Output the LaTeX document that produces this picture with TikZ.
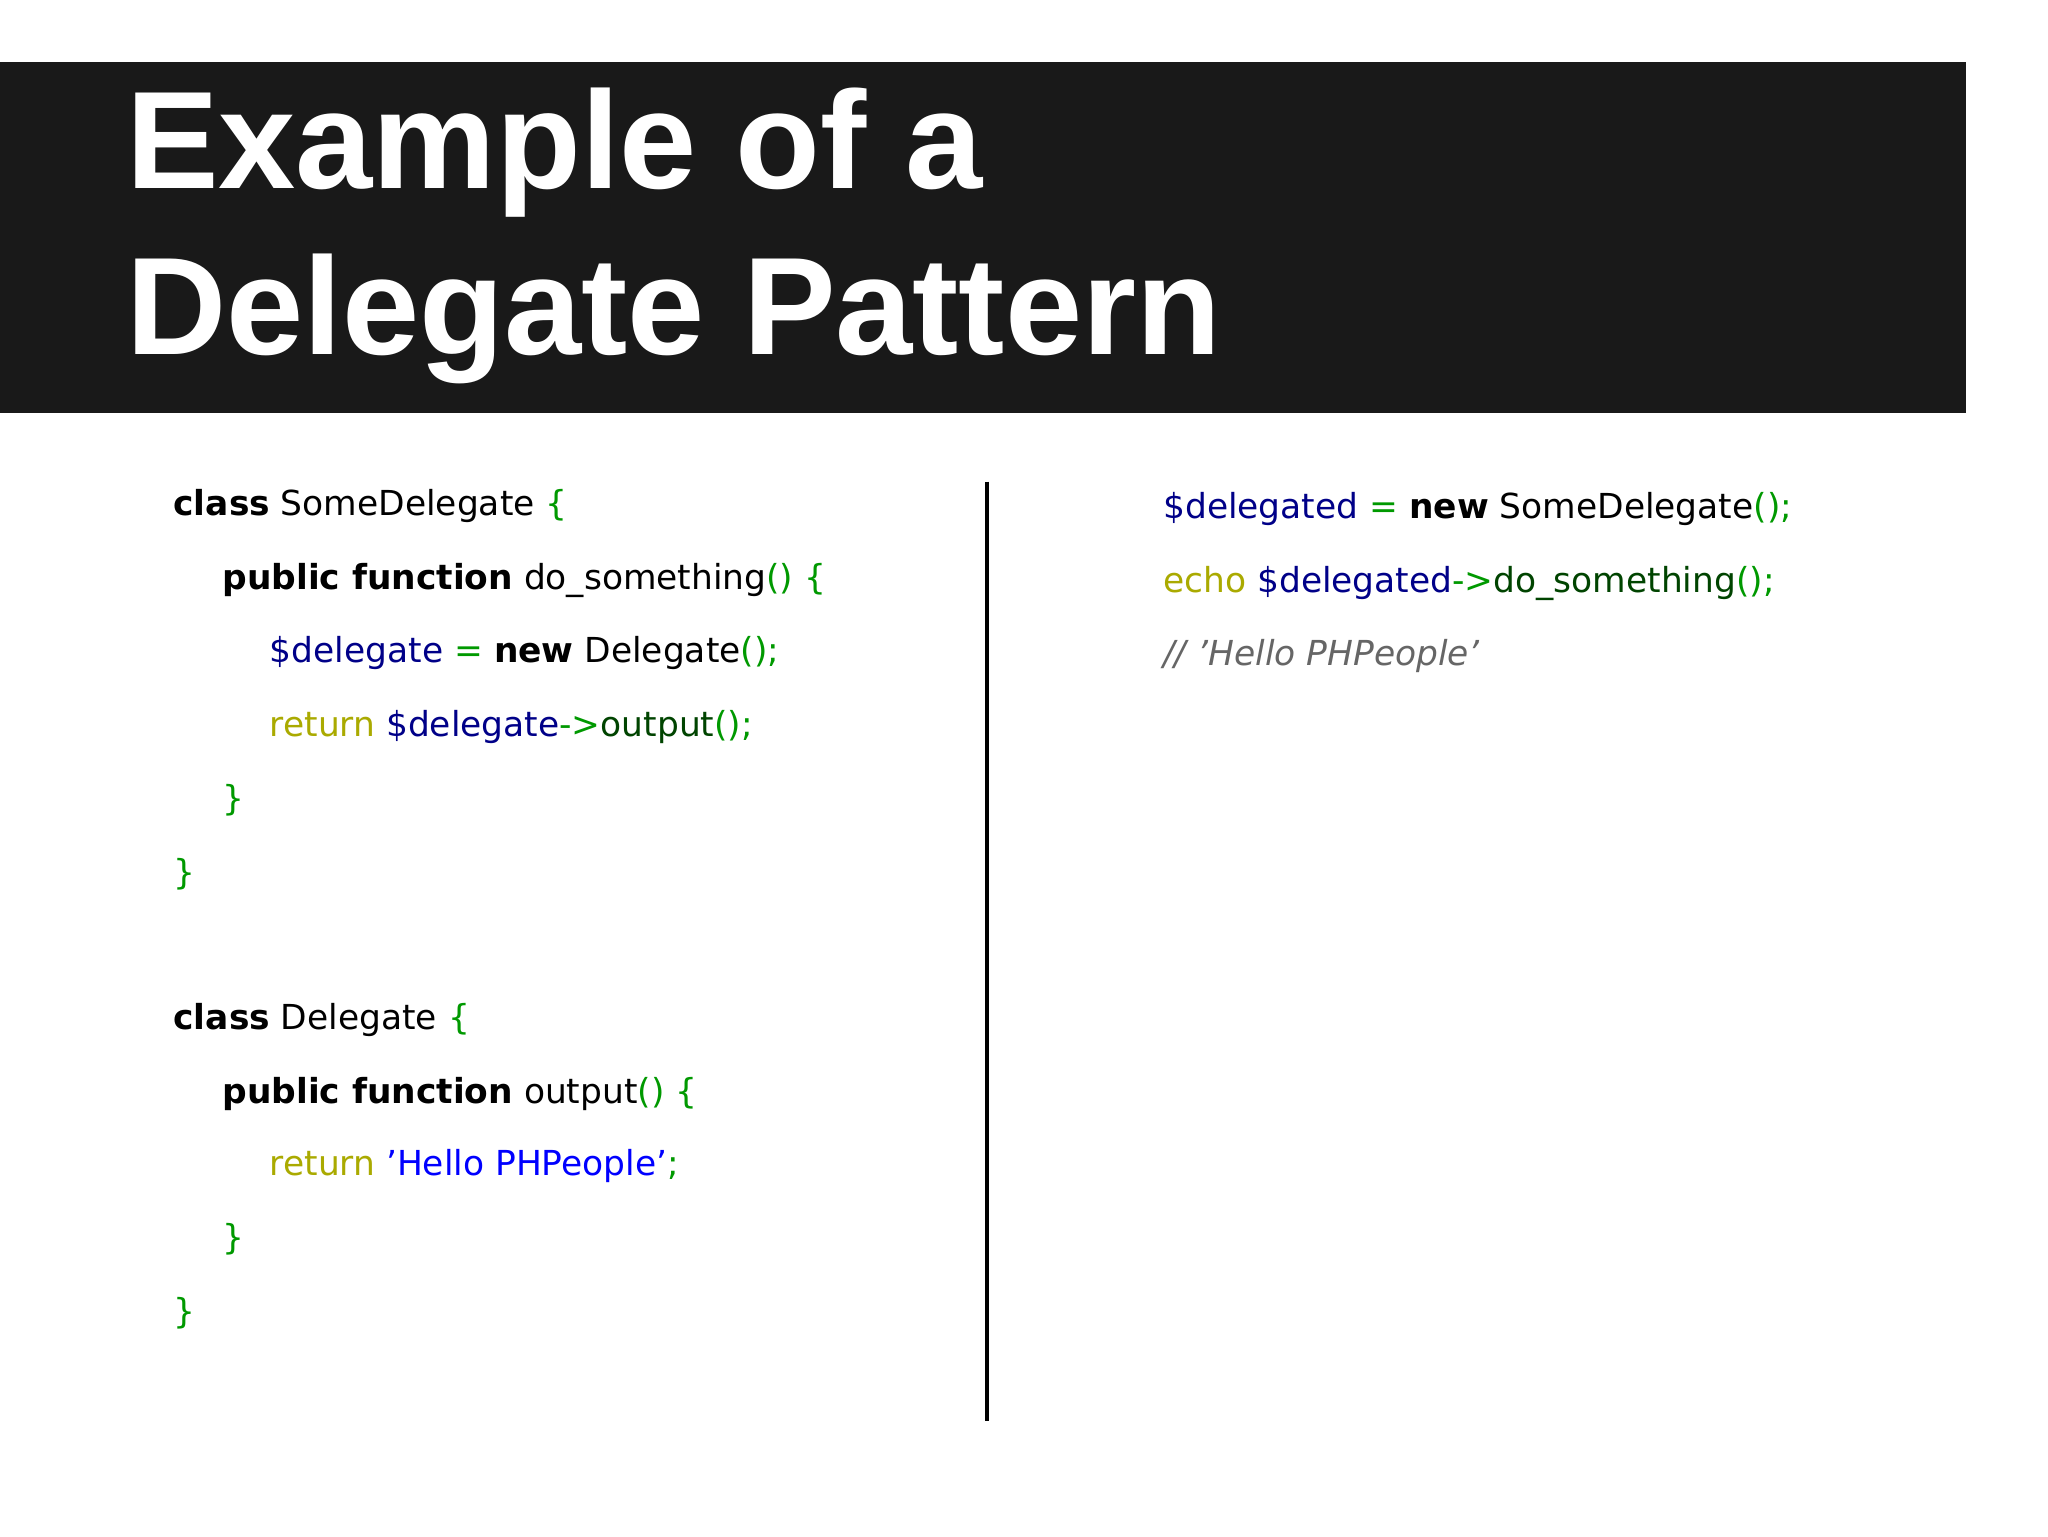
\documentclass[tikz,border=0pt]{standalone}
\usepackage{fontspec}
\setmainfont{DejaVu Sans}
\newfontfamily\titlefont{Liberation Sans}
\definecolor{cgreen}{RGB}{0,153,0}
\definecolor{cvar}{RGB}{0,0,136}
\definecolor{ckw}{RGB}{170,170,0}
\definecolor{cmeth}{RGB}{0,68,0}
\definecolor{cstr}{RGB}{0,0,255}
\definecolor{ccom}{RGB}{102,102,102}
\newcommand{\G}[1]{\textcolor{cgreen}{#1}}
\newcommand{\V}[1]{\textcolor{cvar}{#1}}
\newcommand{\K}[1]{\textcolor{ckw}{#1}}
\newcommand{\M}[1]{\textcolor{cmeth}{#1}}
\newcommand{\Str}[1]{\textcolor{cstr}{#1}}
\newcommand{\q}{\symbol{39}}
\begin{document}
\begin{tikzpicture}[x=0.013196cm,y=-0.013196cm,
  code/.style={anchor=base west,inner sep=0pt,font=\fontsize{9.8}{11}\selectfont},
  title/.style={anchor=base west,inner sep=0pt,text=white,font=\titlefont\bfseries\fontsize{39.5}{46}\selectfont}]
\useasboundingbox (0,0) rectangle (1552,1164);
\fill[white] (0,0) rectangle (1552,1164);
\fill[black!90] (0,47) rectangle (1490,313);
\node[title] (t1) at (95,143) {Example of a};
\node[title] (t2) at (95,269) {Delegate Pattern};
\draw[line width=1.2pt] (748,365) -- (748,1077);
\node[code] (l1) at (131,391) {\textbf{class} SomeDelegate \G{\{}};
\node[code] (l2) at (168,447) {\textbf{public function} do\_something\G{() \{}};
\node[code] (l3) at (204,502) {\V{\$delegate} \G{=} \textbf{new} Delegate\G{();}};
\node[code] (l4) at (204,558) {\K{return} \V{\$delegate}\G{->}\M{output}\G{();}};
\node[code] (l5) at (168,614) {\G{\}}};
\node[code] (l6) at (131,670) {\G{\}}};
\node[code] (m1) at (131,780) {\textbf{class} Delegate \G{\{}};
\node[code] (m2) at (168,836) {\textbf{public function} output\G{() \{}};
\node[code] (m3) at (204,891) {\K{return} \Str{\q Hello PHPeople\q}\G{;}};
\node[code] (m4) at (168,947) {\G{\}}};
\node[code] (m5) at (131,1003) {\G{\}}};
\node[code] (r1) at (881,393) {\V{\$delegated} \G{=} \textbf{new} SomeDelegate\G{();}};
\node[code] (r2) at (881,449) {\K{echo} \V{\$delegated}\G{->}\M{do\_something}\G{();}};
\node[code] (r3) at (881,504) {\textcolor{ccom}{\itshape // \q Hello PHPeople\q}};
\end{tikzpicture}
\end{document}
